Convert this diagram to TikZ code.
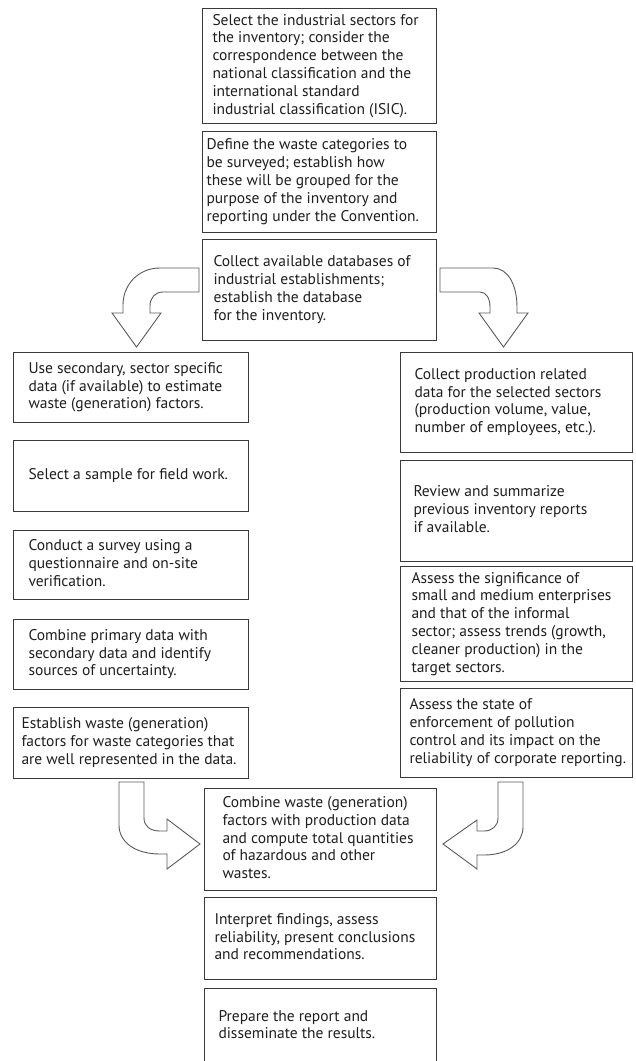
\documentclass[tikz,border=0pt]{standalone}
\usepackage{fontspec}
\setmainfont{PT Sans}
\definecolor{boxc}{HTML}{3A3A3A}
\definecolor{arrc}{HTML}{5A5A5A}
\definecolor{txt}{HTML}{1E1E1E}
\newcommand{\bx}[3]{\makebox[#1pt][l]{\hspace*{#2pt}\begin{tabular}{@{}l@{}}#3\end{tabular}}}
\tikzset{
  box/.style={draw=boxc, line width=1pt, inner sep=0pt, anchor=north west,
    font=\fontsize{15.5}{17.8}\selectfont, text=txt},
  blockarrow/.style={draw=arrc, fill=white, line width=0.9pt, line join=miter},
}
\begin{document}
\begin{tikzpicture}[x=1pt,y=-1pt]
\useasboundingbox (0,0) rectangle (636,1061);
% centre column
\node[box, minimum height=115pt] (s1) at (202,8) {\bx{234}{10}{Select the industrial sectors for\\the inventory; consider the\\correspondence between the\\national classification and the\\international standard\\industrial classification (ISIC).}};
\node[box, minimum height=101pt] (s2) at (202,131) {\bx{234}{4}{Define the waste categories to\\be surveyed; establish how\\these will be grouped for the\\purpose of the inventory and\\reporting under the Convention.}};
\node[box, minimum height=101pt] (s3) at (202,239) {\bx{234}{11}{Collect available databases of\\industrial establishments;\\establish the database\\for the inventory.}};
% left column
\node[box, minimum height=70pt] (l1) at (13,352) {\bx{235}{15}{Use secondary, sector specific\\data (if available) to estimate\\waste (generation) factors.}};
\node[box, minimum height=71pt] (l2) at (13,440) {\bx{235}{15}{Select a sample for field work.}};
\node[box, minimum height=69pt] (l3) at (13,530) {\bx{235}{15}{Conduct a survey using a\\questionnaire and on-site\\verification.}};
\node[box, minimum height=70pt] (l4) at (13,619) {\bx{235}{15}{Combine primary data with\\secondary data and identify\\sources of uncertainty.}};
\node[box, minimum height=71pt] (l5) at (13,707) {\bx{235}{8}{Establish waste (generation)\\factors for waste categories that\\are well represented in the data.}};
% right column
\node[box, minimum height=100pt] (r1) at (400,352) {\bx{232}{14}{Collect production related\\data for the selected sectors\\(production volume, value,\\number of employees, etc.).}};
\node[box, minimum height=101pt] (r2) at (400,460) {\bx{232}{13}{Review and summarize\\previous inventory reports\\if available.}};
\node[box, minimum height=115pt] (r3) at (400,566) {\bx{232}{11}{Assess the significance of\\small and medium enterprises\\and that of the informal\\sector; assess trends (growth,\\cleaner production) in the\\target sectors.}};
\node[box, minimum height=89pt] (r4) at (400,688) {\bx{232}{9}{Assess the state of\\enforcement of pollution\\control and its impact on the\\reliability of corporate reporting.}};
% bottom column
\node[box, minimum height=102pt] (b1) at (204,788) {\bx{232}{18}{Combine waste (generation)\\factors with production data\\and compute total quantities\\of hazardous and other\\wastes.}};
\node[box, minimum height=82pt] (b2) at (204,897) {\bx{232}{10}{Interpret findings, assess\\reliability, present conclusions\\and recommendations.}};
\node[box, minimum height=76pt] (b3) at (204,988) {\bx{232}{14}{Prepare the report and\\disseminate the results.}};
% block arrows
\draw[blockarrow] (199,268) -- (160,268) .. controls (138,268) and (123,285) .. (123,305)
  -- (123,313) -- (112,313) -- (136.5,347) -- (161,313) -- (150,313) -- (150,306)
  .. controls (150,298) and (155,292) .. (163,292) -- (199,292) -- cycle;
\draw[blockarrow] (440,268) -- (493,268) .. controls (508,268) and (517,285) .. (517,307)
  -- (517,313) -- (528,313) -- (503.5,347) -- (479,313) -- (490,313) -- (490,307)
  .. controls (490,298) and (486,292) .. (480,292) -- (440,292) -- cycle;
\draw[blockarrow] (119,782) -- (144,782) -- (144,818)
  .. controls (144,826) and (150,831) .. (160,831) -- (167,831) -- (167,819)
  -- (200,844) -- (167,869) -- (167,854) -- (160,854)
  .. controls (135,854) and (119,842) .. (119,825) -- cycle;
\draw[blockarrow] (523,782) -- (498,782) -- (498,818)
  .. controls (498,826) and (492,831) .. (484,831) -- (477,831) -- (477,820)
  -- (443,844) -- (477,869) -- (477,855) -- (484,855)
  .. controls (508,855) and (523,843) .. (523,827) -- cycle;
\end{tikzpicture}
\end{document}
